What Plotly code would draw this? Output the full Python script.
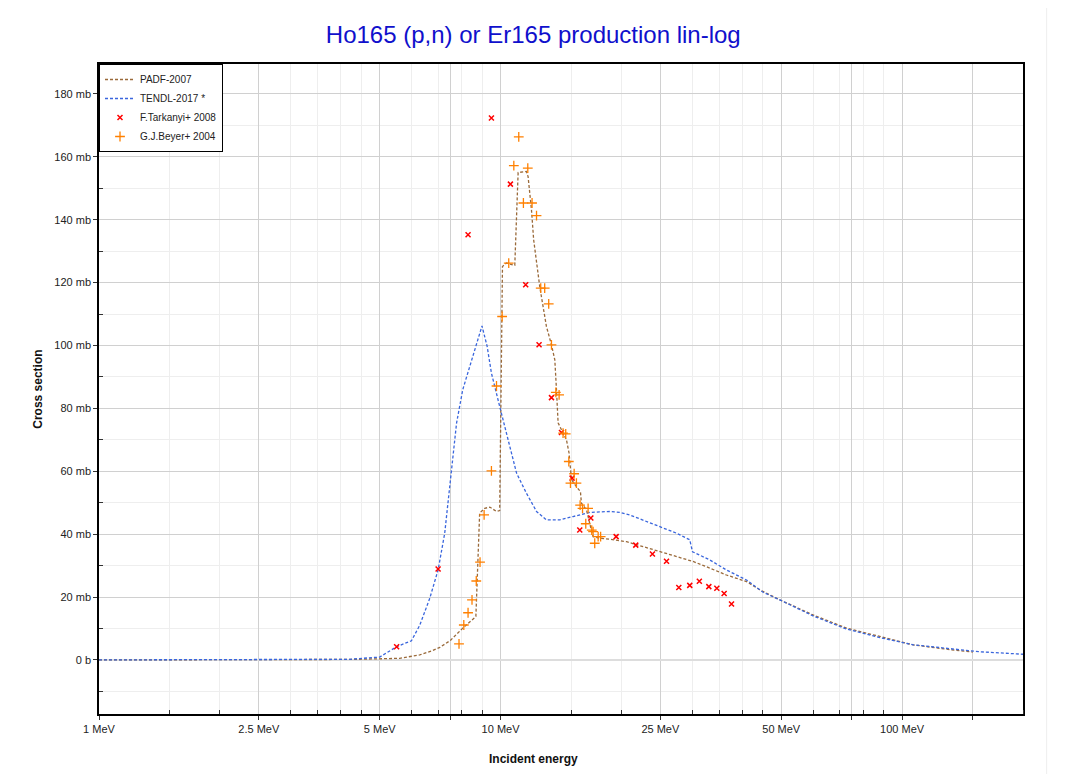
import plotly.graph_objects as go

FONT = "Arial, Liberation Sans, sans-serif"

# PADF-2007 evaluation (MeV, mb)
padf_energy = [
    1.0, 3.16, 4.21, 5.61, 6.29, 6.78, 7.06, 7.5, 8.05, 8.68, 8.87, 9.13, 9.4,
    9.77, 9.95, 10.11, 10.34, 10.74, 10.85, 11.06, 11.6, 11.71, 11.94, 12.09,
    12.29, 12.52, 12.76, 13.01, 13.39, 13.65, 13.78, 13.91, 14.18, 14.59,
    14.81, 15.02, 15.45, 15.81, 15.9, 16.37, 16.75, 17.0, 17.66, 18.71, 20.59,
    22.64, 24.92, 27.42, 30.17, 33.19, 36.52, 40.98, 44.22, 49.6, 60.0, 72.7,
    88.0, 106.5, 129.0, 150.0,
]
padf_xs = [
    0.0, 0.05, 0.15, 0.5, 1.6, 3.0, 4.0, 6.2, 10.1, 13.8, 46.7, 48.2, 48.6,
    47.2, 47.5, 125.1, 126.2, 125.6, 125.5, 155.0, 155.3, 153.7, 143.1, 133.6,
    126.2, 118.7, 112.4, 106.0, 100.2, 95.4, 85.9, 75.4, 73.2, 70.0,
    65.8, 57.3, 55.1, 53.5, 49.8, 47.7, 42.4, 39.2, 38.7, 38.4, 37.6,
    36.0, 34.4, 32.9, 31.3, 29.2, 27.0, 24.9, 22.3, 19.1, 14.3, 10.1,
    7.4, 4.8, 3.4, 2.5,
]

# TENDL-2017 evaluation (MeV, mb)
tendl_energy = [
    1.0, 3.16, 4.21, 5.0, 5.51, 6.0, 6.29, 6.66, 6.99, 7.26, 7.55, 7.77, 8.05,
    8.38, 8.71, 8.99, 9.26, 9.49, 9.95, 10.44, 10.96, 11.6, 12.29, 13.01,
    14.04, 15.16, 16.68, 18.71, 19.81, 20.98, 22.64, 24.92, 27.42, 29.59,
    30.06, 33.19, 36.52, 40.98, 45.07, 49.6, 60.0, 72.7, 88.0, 106.5, 156.1,
    200.0,
]
tendl_xs = [
    0.0, 0.05, 0.2, 0.9, 4.2, 6.1, 11.0, 19.5, 28.6, 40.3, 59.4, 75.3, 85.9,
    93.3, 100.7, 106.2, 99.7, 91.2, 80.6, 70.0, 59.4, 53.0, 47.2, 44.5,
    44.5, 45.6, 46.9, 47.2, 46.9, 46.1, 44.5, 42.4, 40.3, 38.2,
    34.4, 31.8, 28.6, 25.4, 21.5, 19.1, 14.0, 9.8, 7.1, 4.8, 2.6,
    1.8,
]

# F.Tarkanyi+ 2008 measurements
tarkanyi_energy = [
    5.51, 6.99, 8.3, 9.49, 10.58, 11.55, 12.47, 13.39, 14.18, 15.07, 15.75,
    16.78, 19.4, 21.71, 23.89, 25.9, 27.79, 29.59, 31.26, 33.01, 34.56,
    36.04, 37.6,
]
tarkanyi_xs = [
    4.2, 28.9, 135.2, 172.3, 151.3, 119.3, 100.2, 83.4, 72.3, 57.8, 41.3,
    45.1, 39.2, 36.5, 33.7, 31.4, 23.0, 23.7, 25.0, 23.3, 22.8,
    21.1, 17.8,
]

# G.J.Beyer+ 2004 measurements
beyer_energy = [
    7.88, 8.1, 8.3, 8.49, 8.7, 8.89, 9.1, 9.49, 9.77, 10.09, 10.48, 10.79,
    11.1, 11.4, 11.69, 11.98, 12.29, 12.59, 12.88, 13.18, 13.39, 13.73,
    13.99, 14.31, 14.53, 14.79, 15.25, 14.93, 15.45, 15.78, 16.0, 16.52,
    16.3, 16.87, 17.0, 17.5, 17.16, 17.75,
]
beyer_xs = [
    5.1, 11.1, 15.0, 19.1, 25.1, 31.1, 46.1, 60.1, 87.1, 109.2, 126.2, 157.2,
    166.3, 145.3, 156.4, 145.3, 141.3, 118.2, 118.2, 113.2, 100.2, 85.1,
    84.3, 72.1, 71.9, 63.1, 59.2, 56.2, 56.2, 49.2, 48.2, 48.2,
    43.3, 41.3, 40.8, 39.2, 37.1, 39.2,
]

x_major = [1, 2.5, 5, 7.5, 10, 25, 50, 75, 100, 150]
x_labels = ["1 MeV", "2.5 MeV", "5 MeV", "", "10 MeV", "25 MeV", "50 MeV", "", "100 MeV", ""]
x_minor = [1.5, 2, 3, 3.5, 4, 4.5, 6, 7, 8, 9, 15, 20, 30, 35, 40, 45, 60, 70, 80, 90, 200]
y_major = [0, 20, 40, 60, 80, 100, 120, 140, 160, 180]
y_labels = ["0 b"] + [f"{v} mb" for v in y_major[1:]]
y_minor = [-10, 10, 30, 50, 70, 90, 110, 130, 150, 170, 190]

X_RANGE = [0, 2.30103]
Y_RANGE = [-17.2, 189.5]


def build_figure() -> go.Figure:
    fig = go.Figure()
    fig.add_trace(
        go.Scatter(
            x=padf_energy,
            y=padf_xs,
            mode="lines",
            name="PADF-2007",
            line={"color": "#9a6a3a", "width": 1.3, "dash": "3px,2px"},
        )
    )
    fig.add_trace(
        go.Scatter(
            x=tendl_energy,
            y=tendl_xs,
            mode="lines",
            name="TENDL-2017 *",
            line={"color": "#3a66dd", "width": 1.3, "dash": "3px,2px"},
        )
    )
    fig.add_trace(
        go.Scatter(
            x=tarkanyi_energy,
            y=tarkanyi_xs,
            mode="markers",
            name="F.Tarkanyi+ 2008",
            marker={
                "symbol": "x-thin",
                "size": 5,
                "color": "#ff0000",
                "line": {"color": "#ff0000", "width": 1.5},
            },
        )
    )
    fig.add_trace(
        go.Scatter(
            x=beyer_energy,
            y=beyer_xs,
            mode="markers",
            name="G.J.Beyer+ 2004",
            marker={
                "symbol": "cross-thin",
                "size": 7,
                "color": "#ff8000",
                "line": {"color": "#ff8000", "width": 1.3},
            },
        )
    )

    axis_common = {
        "showline": True,
        "linecolor": "#000000",
        "linewidth": 1.5,
        "mirror": True,
        "ticks": "outside",
        "ticklen": 4,
        "tickcolor": "#333333",
        "tickfont": {"family": FONT, "size": 11, "color": "#222222"},
        "gridcolor": "#d0d0d0",
        "gridwidth": 1,
        "tickmode": "array",
    }
    fig.update_xaxes(
        type="log",
        range=X_RANGE,
        tickvals=x_major,
        ticktext=x_labels,
        minor={
            "tickmode": "array",
            "tickvals": x_minor,
            "ticks": "inside",
            "ticklen": 4,
            "tickcolor": "#333333",
            "showgrid": True,
            "gridcolor": "#eeeeee",
        },
        **axis_common,
    )
    fig.update_yaxes(
        range=Y_RANGE,
        tickvals=y_major,
        ticktext=y_labels,
        zeroline=True,
        zerolinecolor="#dddddd",
        zerolinewidth=2,
        minor={
            "tickmode": "array",
            "tickvals": y_minor,
            "ticks": "inside",
            "ticklen": 4,
            "tickcolor": "#333333",
            "showgrid": True,
            "gridcolor": "#eeeeee",
        },
        **axis_common,
    )

    # inward ticks on the top and right frame edges
    fig.update_layout(
        xaxis2={
            "type": "log",
            "range": X_RANGE,
            "overlaying": "x",
            "anchor": "y",
            "side": "top",
            "tickmode": "array",
            "tickvals": x_major,
            "ticks": "inside",
            "ticklen": 4,
            "tickcolor": "#555555",
            "showticklabels": False,
            "showgrid": False,
            "showline": False,
            "zeroline": False,
        },
        yaxis2={
            "range": Y_RANGE,
            "overlaying": "y",
            "anchor": "x",
            "side": "right",
            "tickmode": "array",
            "tickvals": y_major,
            "ticks": "inside",
            "ticklen": 4,
            "tickcolor": "#555555",
            "showticklabels": False,
            "showgrid": False,
            "showline": False,
            "zeroline": False,
        },
    )

    # page body adds an 8px offset, so the figure is 8px smaller
    fig.update_layout(
        width=1063,
        height=766,
        paper_bgcolor="#ffffff",
        plot_bgcolor="#ffffff",
        margin={"l": 91, "r": 48, "t": 56, "b": 60},
        font={"family": FONT, "size": 11, "color": "#222222"},
        title={
            "text": "Ho165 (p,n) or Er165 production lin-log",
            "font": {"family": FONT, "size": 24, "color": "#1010cc"},
            "x": 0.47,
            "xref": "paper",
            "xanchor": "center",
            "y": 1 - 27 / 766,
            "yref": "container",
            "yanchor": "middle",
        },
        showlegend=True,
        legend={
            "x": 0,
            "y": 1,
            "xanchor": "left",
            "yanchor": "top",
            "bgcolor": "#ffffff",
            "bordercolor": "#000000",
            "borderwidth": 1,
            "font": {"family": FONT, "size": 10, "color": "#222222"},
            "itemwidth": 30,
            "tracegroupgap": 0,
        },
    )
    fig.add_annotation(
        text="<b>Incident energy</b>",
        xref="paper",
        yref="paper",
        x=0.47,
        y=-0.083,
        showarrow=False,
        font={"family": FONT, "size": 12, "color": "#111111"},
    )
    fig.add_annotation(
        text="<b>Cross section</b>",
        xref="paper",
        yref="paper",
        x=-0.076,
        y=0.5,
        textangle=-90,
        showarrow=False,
        font={"family": FONT, "size": 12, "color": "#111111"},
    )
    # faint card border on the top and right
    fig.add_shape(
        type="line", xref="paper", yref="paper",
        x0=-0.0858, x1=1.0256, y0=1.0913, y1=1.0913,
        line={"color": "#eeeeee", "width": 1},
    )
    fig.add_shape(
        type="line", xref="paper", yref="paper",
        x0=1.0256, x1=1.0256, y0=-0.0924, y1=1.0913,
        line={"color": "#eeeeee", "width": 1},
    )
    return fig


fig = build_figure()
fig.write_html("out.html")
